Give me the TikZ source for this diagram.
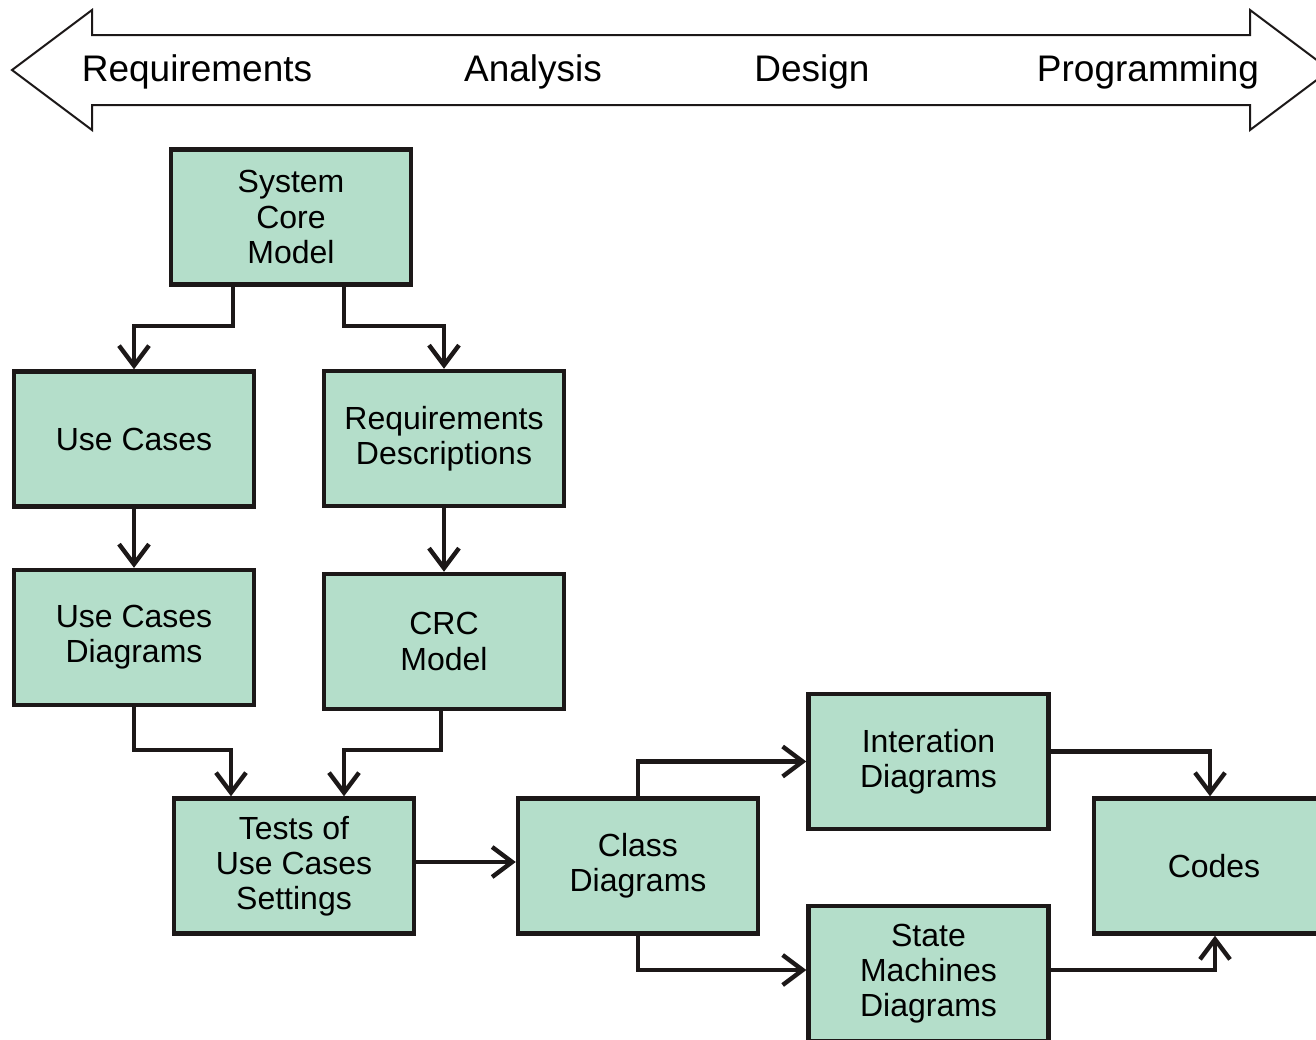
\documentclass[tikz,border=0pt]{standalone}
\usepackage{fontspec}
\setmainfont{Liberation Sans}
\usetikzlibrary{arrows.meta,calc}
\definecolor{boxfill}{RGB}{180,222,202}
\definecolor{ink}{RGB}{28,24,24}
\begin{document}
\begin{tikzpicture}[x=0.5pt,y=-0.5pt,
  stagebox/.style={draw=ink, fill=boxfill, line width=2.2pt,
    minimum width=120pt, minimum height=67.5pt, inner sep=0pt,
    align=center, font=\fontsize{16}{17.6}\selectfont},
  conn/.style={draw=ink, line width=2.2pt,
    -{Straight Barb[length=10pt,width=15pt,line cap=butt]}},
  phase/.style={font=\fontsize{18.5}{20}\selectfont, inner sep=0pt}]
\useasboundingbox (0,0) rectangle (1316,1039);
\clip (0,0) rectangle (1316,1039);

% phase band: double-headed block arrow
\draw[ink, line width=1pt, fill=white]
  (12,70) -- (92,10) -- (92,35) -- (1250,35) -- (1250,10) -- (1330,70)
  -- (1250,130) -- (1250,105) -- (92,105) -- (92,130) -- cycle;
\node[phase] (pReq) at (197,72) {Requirements};
\node[phase] (pAna) at (533,72) {Analysis};
\node[phase] (pDes) at (812,72) {Design};
\node[phase] (pPrg) at (1148,72) {Programming};

% work products
\node[stagebox] (scm)   at (291,217)    {System\\Core\\Model};
\node[stagebox] (uc)    at (134,439)    {Use Cases};
\node[stagebox] (rd)    at (444,438.5)  {Requirements\\Descriptions};
\node[stagebox] (ucd)   at (134,637.5)  {Use Cases\\Diagrams};
\node[stagebox] (crc)   at (444,641.5)  {CRC\\Model};
\node[stagebox] (tests) at (294,866)    {Tests of\\Use Cases\\Settings};
\node[stagebox] (cls)   at (638,866)    {Class\\Diagrams};
\node[stagebox] (inter) at (928.5,761.5){Interation\\Diagrams};
\node[stagebox] (codes) at (1214,866)   {Codes};
\node[stagebox] (smd)   at (928.5,973.5){State\\Machines\\Diagrams};

% flow
\draw[conn] ([xshift=-29pt]scm.south) -- ++(0,-19.5pt) -| (uc.north);
\draw[conn] ([xshift=26.5pt]scm.south) -- ++(0,-19.5pt) -| (rd.north);
\draw[conn] (uc.south) -- (ucd.north);
\draw[conn] (rd.south) -- (crc.north);
\draw[conn] (ucd.south) -- ++(0,-21.5pt) -| ([xshift=-31.5pt]tests.north);
\draw[conn] ([xshift=-1.5pt]crc.south) -- ++(0,-19.5pt) -| ([xshift=25pt]tests.north);
\draw[conn] ([yshift=2pt]tests.east) -- ([yshift=2pt]cls.west);
\draw[conn] (cls.north) |- (inter.west);
\draw[conn] (cls.south) |- ([yshift=1.75pt]smd.west);
\draw[conn] ([yshift=5pt]inter.east) -| ([xshift=-2pt]codes.north);
\draw[conn] ([yshift=1.75pt]smd.east) -| ([xshift=0.5pt]codes.south);
\end{tikzpicture}
\end{document}
